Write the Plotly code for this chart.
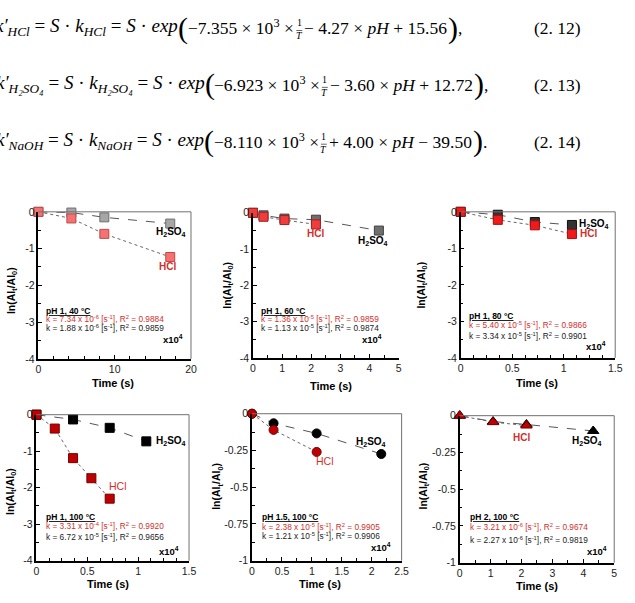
import plotly.graph_objects as go

W, H = 635, 603

# ---------------- data (time in units of 10^4 s) ----------------
t1 = [0, 4.32, 8.64, 17.28]
hcl1 = [0, -0.18, -0.60, -1.23]
h2so4_1 = [0, -0.02, -0.15, -0.32]

t2_hcl = [0, 0.36, 1.08, 2.16]
hcl2 = [0, -0.11, -0.20, -0.32]
t2_h2 = [0, 0.36, 1.08, 2.16, 4.32]
h2so4_2 = [0, -0.07, -0.16, -0.19, -0.49]

t3 = [0, 0.36, 0.72, 1.08]
hcl3 = [0, -0.22, -0.37, -0.61]
h2so4_3 = [0, -0.08, -0.28, -0.36]

t4_hcl = [0, 0.18, 0.36, 0.54, 0.72]
hcl4 = [0, -0.38, -1.19, -1.74, -2.30]
t4_h2 = [0, 0.36, 0.72, 1.08]
h2so4_4 = [0, -0.13, -0.36, -0.73]

t5_hcl = [0, 0.36, 1.08]
hcl5 = [0, -0.11, -0.26]
t5_h2 = [0, 0.36, 1.08, 2.16]
h2so4_5 = [0, -0.065, -0.134, -0.274]

t6_hcl = [0, 1.08, 2.16]
hcl6 = [0, -0.044, -0.067]
t6_h2 = [0, 1.08, 2.16, 4.32]
h2so4_6 = [0, -0.04, -0.06, -0.104]

conditions = ["pH 1, 40 °C", "pH 1, 60 °C", "pH 1, 80 °C",
              "pH 1, 100 °C", "pH 1.5, 100 °C", "pH 2, 100 °C"]
k_hcl = ["7.34 x 10<sup>-6</sup>", "1.36 x 10<sup>-5</sup>", "5.40 x 10<sup>-5</sup>",
         "3.31 x 10<sup>-4</sup>", "2.38 x 10<sup>-5</sup>", "3.21 x 10<sup>-6</sup>"]
r2_hcl = ["0.9884", "0.9859", "0.9866", "0.9920", "0.9905", "0.9674"]
k_h2 = ["1.88 x 10<sup>-6</sup>", "1.13 x 10<sup>-5</sup>", "3.34 x 10<sup>-5</sup>",
        "6.72 x 10<sup>-5</sup>", "1.21 x 10<sup>-5</sup>", "2.27 x 10<sup>-6</sup>"]
r2_h2 = ["0.9859", "0.9874", "0.9901", "0.9656", "0.9906", "0.9819"]

x_ranges = [[0, 20], [0, 5], [0, 1.5], [0, 1.5], [0, 2.5], [0, 5]]
x_ticks = [[0, 10, 20], [0, 1, 2, 3, 4, 5], [0, 0.5, 1, 1.5], [0, 0.5, 1, 1.5],
           [0, 0.5, 1, 1.5, 2, 2.5], [0, 1, 2, 3, 4, 5]]
x_minor = [2, 0.5, 0.125, 0.125, 0.25, 0.5]
y_ranges = [[-4, 0]] * 4 + [[-1, 0]] * 2
y_ticks = [[0, -1, -2, -3, -4]] * 4 + [[0, -0.25, -0.5, -0.75, -1]] * 2
y_ticktext = [["0", "-1", "-2", "-3", "-4"]] * 4 + [["0", "-0.25", "-0.5", "-0.75", "-1"]] * 2

# ---------------- layout geometry (pixels) ----------------
boxes = [(36, 191, 210, 360), (254, 402, 211, 359), (465, 622, 210, 359),
         (34, 189, 417, 566), (253, 405, 416, 566), (464, 621, 418, 568)]

def px(x):
    return x / W

def py(y):
    return 1 - y / H

fig = go.Figure()

series = [
    (t1, h2so4_1, t1, hcl1, "square", "#a6a6a6", "#6e6e6e", "#f47272", "#c04848"),
    (t2_h2, h2so4_2, t2_hcl, hcl2, "square", "#6f6f6f", "#404040", "#f03c3c", "#a02020"),
    (t3, h2so4_3, t3, hcl3, "square", "#333333", "#111111", "#f01a1a", "#a01010"),
    (t4_h2, h2so4_4, t4_hcl, hcl4, "square", "#000000", "#000000", "#c00000", "#700000"),
    (t5_h2, h2so4_5, t5_hcl, hcl5, "circle", "#000000", "#000000", "#c00000", "#700000"),
    (t6_h2, h2so4_6, t6_hcl, hcl6, "triangle-up", "#000000", "#000000", "#c00000", "#700000"),
]

for i, (xh2, yh2, xhc, yhc, sym, c2, e2, c1, e1) in enumerate(series):
    n = i + 1
    xa = "x" if n == 1 else f"x{n}"
    ya = "y" if n == 1 else f"y{n}"
    size = 10 if sym == "triangle-up" else 9
    fig.add_trace(go.Scatter(x=xh2, y=yh2, xaxis=xa, yaxis=ya, mode="lines+markers",
                             line=dict(color="#555555", width=1, dash="dash"),
                             marker=dict(symbol=sym, size=size, color=c2, line=dict(color=e2, width=1)),
                             cliponaxis=False, showlegend=False))
    fig.add_trace(go.Scatter(x=xhc, y=yhc, xaxis=xa, yaxis=ya, mode="lines+markers",
                             line=dict(color="#666666", width=1, dash="dot"),
                             marker=dict(symbol=sym, size=size, color=c1, line=dict(color=e1, width=1)),
                             cliponaxis=False, showlegend=False))

tickfont = dict(family="Liberation Sans", size=10.5, color="#222222")
for i, (x0, x1, y0, y1) in enumerate(boxes):
    n = i + 1
    sfx = "" if n == 1 else str(n)
    fig.layout["xaxis" + sfx] = dict(
        domain=[px(x0), px(x1)], range=x_ranges[i], anchor="y" + sfx,
        tickvals=x_ticks[i], ticktext=[str(v) for v in x_ticks[i]],
        ticks="inside", ticklen=4, tickcolor="black", tickwidth=1,
        minor=dict(ticks="inside", dtick=x_minor[i], ticklen=3, tickcolor="black"),
        showline=True, linecolor="black", linewidth=1.5, showgrid=False, zeroline=False,
        tickfont=tickfont, fixedrange=True)
    fig.layout["yaxis" + sfx] = dict(
        domain=[py(y1), py(y0)], range=y_ranges[i], anchor="x" + sfx,
        tickvals=y_ticks[i], ticktext=y_ticktext[i],
        ticks="inside", ticklen=4, tickcolor="black", tickwidth=1,
        minor=dict(ticks="inside", dtick=(0.5 if i < 4 else 0.125), ticklen=3, tickcolor="black"),
        showline=True, linecolor="black", linewidth=1.5, showgrid=False, zeroline=False,
        tickfont=tickfont, fixedrange=True)
    if n != 2:
        xr = ("x" + sfx) + " domain"
        yr = ("y" + sfx) + " domain"
        fig.add_shape(type="line", xref=xr, yref=yr, x0=0, x1=1, y0=1, y1=1,
                      line=dict(color="#707070", width=1))
        fig.add_shape(type="line", xref=xr, yref=yr, x0=1, x1=1, y0=0, y1=1,
                      line=dict(color="#707070", width=1))

anns = []

def ann(text, x, y, size=11, color="black", xanchor="left", family="Liberation Sans",
        textangle=0, yanchor="middle"):
    anns.append(dict(text=text, x=px(x), y=py(y), xref="paper", yref="paper",
                     xanchor=xanchor, yanchor=yanchor, showarrow=False,
                     textangle=textangle, borderpad=0,
                     font=dict(family=family, size=size, color=color)))

def ann_c(text, x, yc, size, **kw):
    # place text so its glyph centre sits at yc (bottom-anchored to be robust to sup/sub)
    ann(text, x, yc + 0.58 * size, size=size, yanchor="bottom", **kw)

RED = "#d0302c"
H2SO4 = "<b>H<sub>2</sub>SO<sub>4</sub></b>"

# series labels per panel: (h2so4 x, y, hcl x, y)
labels = [(154, 232, 157, 267), (360, 241, 308, 233), (584, 224, 585, 233),
          (154, 445, 107, 491), (358, 446, 317, 465), (577, 445, 517, 441)]
for i, (hx, hy, cx, cy) in enumerate(labels):
    ann_c(H2SO4, hx, hy, 10)
    if i in (3, 4):
        ann_c("HCl", cx, cy, 10.5, color=RED)
    else:
        ann_c("<b>HCl</b>", cx, cy, 10, color=RED)

# condition blocks: (left x, cond y, red y, black y, x10 right x, x10 y)
blocks = [(43, 312, 320.5, 329.5, 184, 341), (261, 312, 320.5, 329.5, 386, 341),
          (472, 317, 327, 338, 614, 349), (43, 523, 532, 543, 180, 558),
          (262, 523, 533, 542, 395, 554), (473, 523, 533, 546, 615, 558)]
for i, (lx, cy, ry, by, xx, xy) in enumerate(blocks):
    ann_c(f"<b><u>{conditions[i]}</u></b>", lx, cy, 8.5)
    ann_c(f"k = {k_hcl[i]} [s<sup>-1</sup>], R<sup>2</sup> = {r2_hcl[i]}", lx, ry, 8.3, color=RED)
    ann_c(f"k = {k_h2[i]} [s<sup>-1</sup>], R<sup>2</sup> = {r2_h2[i]}", lx, by, 8.3, color="#222222")
    ann_c("<b>x10<sup>4</sup></b>", xx, xy, 9.5, xanchor="right")

# axis titles
ytitle = "<b>ln(Al<sub>t</sub>/Al<sub>0</sub>)</b>"
for (x, y) in [(9, 290), (229, 285), (426, 285), (8, 495), (218, 490), (428, 490)]:
    ann(ytitle, x, y, size=10.5, xanchor="center", textangle=-90)
for (x, y) in [(112, 385), (333, 388), (543, 385), (107, 590), (322, 590), (543, 592)]:
    ann("<b>Time (s)</b>", x, y, size=11, xanchor="center")

# ---------------- equations ----------------
SERIF = "Liberation Serif"
ES = 17.5
eqs = [
    dict(y=24, left="<i>k′</i><sub><i>HCl</i></sub> = <i>S</i> · <i>k</i><sub><i>HCl</i></sub> = <i>S</i> · <i>exp</i>",
         lp=182, inner="−7.355 × 10<sup>3</sup> ×", fx=301,
         right="− 4.27 × <i>pH</i> + 15.56", rp=456, end=",", num="(2. 12)"),
    dict(y=82, left="<i>k′</i><sub><i>H₂SO₄</i></sub> = <i>S</i> · <i>k</i><sub><i>H₂SO₄</i></sub> = <i>S</i> · <i>exp</i>",
         lp=209, inner="−6.923 × 10<sup>3</sup> ×", fx=327,
         right="− 3.60 × <i>pH</i> + 12.72", rp=483, end=",", num="(2. 13)"),
    dict(y=140, left="<i>k′</i><sub><i>NaOH</i></sub> = <i>S</i> · <i>k</i><sub><i>NaOH</i></sub> = <i>S</i> · <i>exp</i>",
         lp=208, inner="−8.110 × 10<sup>3</sup> ×", fx=326,
         right="+ 4.00 × <i>pH</i> − 39.50", rp=482, end=".", num="(2. 14)"),
]
for e in eqs:
    y = e["y"]
    ann_c(e["left"], e["lp"] - 3, y, 19, xanchor="right", family=SERIF)
    ann("(", e["lp"] + 1, y - 2, size=30, xanchor="center", family=SERIF)
    ann_c(e["inner"], e["fx"] - 4, y, ES, xanchor="right", family=SERIF)
    ann_c("1", e["fx"], y - 6, 10, xanchor="center", family=SERIF)
    ann_c("<i>T</i>", e["fx"], y + 7, 10, xanchor="center", family=SERIF)
    fig.add_shape(type="line", xref="paper", yref="paper", x0=px(e["fx"] - 3), x1=px(e["fx"] + 3),
                  y0=py(y + 1), y1=py(y + 1), line=dict(color="black", width=0.6))
    ann_c(e["right"], e["fx"] + 4, y, ES, xanchor="left", family=SERIF)
    ann(")", e["rp"] + 1, y - 2, size=30, xanchor="center", family=SERIF)
    ann_c(e["end"], e["rp"] + 5, y, ES, xanchor="left", family=SERIF)
    ann_c(e["num"], 538, y, ES, xanchor="left", family=SERIF)

fig.update_layout(width=W, height=H, margin=dict(l=0, r=0, t=0, b=0), autosize=False,
                  paper_bgcolor="white", plot_bgcolor="white", annotations=anns,
                  showlegend=False)

fig.write_html("out.html")
